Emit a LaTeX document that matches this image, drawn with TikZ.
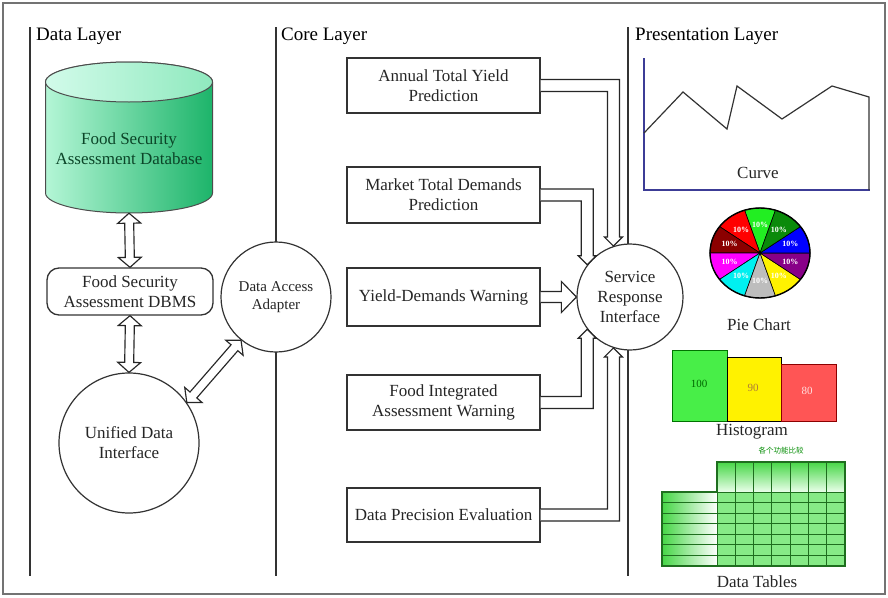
\documentclass[tikz,border=0pt]{standalone}
\usepackage{fontspec}
\setmainfont{Liberation Serif}
\newfontfamily\cjkfont{Noto Sans CJK SC}
\usetikzlibrary{calc,shapes.misc,shapes.geometric}
\definecolor{mintL}{HTML}{B4F6D6}
\definecolor{mintM}{HTML}{74E2AC}
\definecolor{mintR}{HTML}{1DB46A}
\definecolor{mintTopL}{HTML}{D2FBEA}
\definecolor{mintTopR}{HTML}{8FE9BE}
\definecolor{dbgreen}{HTML}{0B4528}
\definecolor{axisblue}{HTML}{3C3C96}
\definecolor{pielime}{HTML}{22EE22}
\definecolor{piedarkred}{HTML}{8B0000}
\definecolor{piegray}{HTML}{BDBDBD}
\definecolor{piepurple}{HTML}{880088}
\definecolor{piedarkgreen}{HTML}{0A8A0A}
\definecolor{piecyan}{HTML}{00F0F0}
\definecolor{piemagenta}{HTML}{FF00FF}
\definecolor{histgreen}{HTML}{48EE48}
\definecolor{histred}{HTML}{FF5555}
\definecolor{tblgreen}{HTML}{46D646}
\definecolor{tblcell}{HTML}{86EA86}
\definecolor{tblborder}{HTML}{1E6E1E}
\tikzset{
  txt/.style={font=\fontsize{17}{20}\selectfont, align=center, text=black!85},
  cbox/.style={txt, draw=black!80, line width=1.3pt, fill=white, minimum width=193pt, inner sep=0pt},
  circ/.style={txt, circle, draw=black!80, line width=1.2pt, fill=white, inner sep=0pt},
  hol/.style={draw=black!85, line width=1.15pt, fill=white, line join=miter},
  layerlbl/.style={font=\fontsize{19}{22}\selectfont, anchor=west, inner sep=0pt},
  divider/.style={draw=black!80, line width=1.2pt},
  caption/.style={font=\fontsize{17}{20}\selectfont, text=black!85, inner sep=0pt},
  pielbl/.style={font=\bfseries\fontsize{8}{9}\selectfont, text=white, inner sep=0pt},
  histlbl/.style={font=\fontsize{11}{12}\selectfont, inner sep=0pt},
  cell/.style={draw=tblborder, line width=0.8pt}
}
\newcommand\hdarr[5]{%
  \coordinate (ha) at ($(#1)!#5!(#2)$);
  \coordinate (hb) at ($(#2)!#5!(#1)$);
  \draw[hol] (#1) -- ($(ha)!#4!90:(#2)$) -- ($(ha)!#3!90:(#2)$) -- ($(hb)!#3!90:(#2)$)
    -- ($(hb)!#4!90:(#2)$) -- (#2) -- ($(hb)!#4!-90:(#2)$) -- ($(hb)!#3!-90:(#2)$)
    -- ($(ha)!#3!-90:(#2)$) -- ($(ha)!#4!-90:(#2)$) -- cycle;}
\newcommand\hsarr[5]{%
  \coordinate (hb) at ($(#2)!#5!(#1)$);
  \draw[hol] ($(#1)!#3!90:(#2)$) -- ($(hb)!#3!90:(#2)$) -- ($(hb)!#4!90:(#2)$) -- (#2)
    -- ($(hb)!#4!-90:(#2)$) -- ($(hb)!#3!-90:(#2)$) -- ($(#1)!#3!-90:(#2)$);}
\begin{document}
\begin{tikzpicture}[x=1pt,y=-1pt]
\useasboundingbox (0,0) rectangle (888,597);
\fill[white] (0,0) rectangle (888,597);
\draw[black!55, line width=1.5pt] (3,3) rectangle (885,594);

% layer labels and dividers
\node[layerlbl] (l1) at (36,36) {Data Layer};
\node[layerlbl] (l2) at (281,36) {Core Layer};
\node[layerlbl] (l3) at (635,36) {Presentation Layer};
\draw[divider] (30,27) -- (30,576);
\draw[divider] (276,27) -- (276,576);
\draw[divider] (628,27) -- (628,576);

% database cylinder
\node[minimum width=167pt, minimum height=151pt, inner sep=0pt] (db) at (129,137.5) {};
\draw[draw=black!70, line width=1pt, left color=mintL, middle color=mintM, right color=mintR]
  (45.5,82) -- (45.5,193) arc[start angle=180, end angle=0, x radius=83.5, y radius=20]
  -- (212.5,82) arc[start angle=0, end angle=-180, x radius=83.5, y radius=20] -- cycle;
\draw[draw=black!70, line width=1pt, left color=mintTopL, right color=mintTopR]
  (129,82) ellipse[x radius=83.5, y radius=20];
\node[txt, text=dbgreen] (dbt) at (129,149) {Food Security\\Assessment Database};

\node[txt, draw=black!80, line width=1.3pt, rounded corners=12pt, minimum width=166pt,
  minimum height=47pt, inner sep=0pt, fill=white] (dbms) at (130,291.5) {Food Security\\Assessment DBMS};
\node[circ, minimum size=140pt] (uni) at (129,443) {Unified Data\\Interface};
\node[circ, minimum size=110pt, font=\fontsize{15}{18}\selectfont] (daa) at (276,297) {Data Access\\Adapter};

% core boxes
\node[cbox, minimum height=55pt] (b1) at (443.5,85.5) {Annual Total Yield\\Prediction};
\node[cbox, minimum height=56pt] (b2) at (443.5,195) {Market Total Demands\\Prediction};
\node[cbox, minimum height=58pt] (b3) at (443.5,297) {Yield-Demands Warning};
\node[cbox, minimum height=55pt] (b4) at (443.5,402.5) {Food Integrated\\Assessment Warning};
\node[cbox, minimum height=54pt] (b5) at (443.5,515) {Data Precision Evaluation};
\node[circ, minimum size=106pt] (sri) at (630,297) {Service\\Response\\Interface};

% left hollow double arrows
\hdarr{db.south}{dbms.north}{4.5pt}{11.5pt}{10pt}
\hdarr{dbms.south}{uni.north}{4.5pt}{11.5pt}{10pt}
\hdarr{uni.35}{daa.231}{4.5pt}{11.5pt}{10pt}

% hollow arrows into service response interface
\draw[hol] ($(b1.east)+(0,-6)$) -- ($(b1.east -| sri.108)+(6,-6)$) -- ($(sri.108)+(6,-9)$)
  -- ($(sri.108)+(9,-9)$) -- (sri.108) -- ($(sri.108)+(-9,-9)$) -- ($(sri.108)+(-6,-9)$)
  -- ($(b1.east -| sri.108)+(-6,6)$) -- ($(b1.east)+(0,6)$);
\draw[hol] ($(b2.east)+(0,-6)$) -- ($(b2.east -| sri.143)+(6,-6)$) -- ($(sri.143)+(6,-9)$)
  -- ($(sri.143)+(9,-9)$) -- (sri.143) -- ($(sri.143)+(-9,-9)$) -- ($(sri.143)+(-6,-9)$)
  -- ($(b2.east -| sri.143)+(-6,6)$) -- ($(b2.east)+(0,6)$);
\hsarr{b3.east}{sri.west}{5.5pt}{15.5pt}{15pt}
\draw[hol] ($(b4.east)+(0,6)$) -- ($(b4.east -| sri.217)+(6,6)$) -- ($(sri.217)+(6,9)$)
  -- ($(sri.217)+(9,9)$) -- (sri.217) -- ($(sri.217)+(-9,9)$) -- ($(sri.217)+(-6,9)$)
  -- ($(b4.east -| sri.217)+(-6,-6)$) -- ($(b4.east)+(0,-6)$);
\draw[hol] ($(b5.east)+(0,6)$) -- ($(b5.east -| sri.252)+(6,6)$) -- ($(sri.252)+(6,9)$)
  -- ($(sri.252)+(9,9)$) -- (sri.252) -- ($(sri.252)+(-9,9)$) -- ($(sri.252)+(-6,9)$)
  -- ($(b5.east -| sri.252)+(-6,-6)$) -- ($(b5.east)+(0,-6)$);

% curve
\draw[axisblue, line width=1.2pt] (644,58) -- (644,190) -- (870,190);
\draw[black!80, line width=1.2pt, line join=miter] (644,133) -- (683,92) -- (727,129) -- (737,86)
  -- (782,119) -- (832,86) -- (869,97) -- (869,190);
\node[caption] (cv) at (758,173) {Curve};

% pie chart
\begin{scope}[shift={(760,253)}, y=1pt]
  \foreach \a/\c in {72/pielime,108/red,144/piedarkred,180/piemagenta,216/piecyan,252/piegray,288/yellow,324/piepurple,0/blue,36/piedarkgreen}{
    \filldraw[fill=\c, draw=black, line width=0.6pt] (0,0) -- (\a:50 and 45)
      arc[start angle=\a, end angle=\a+36, x radius=50, y radius=45] -- cycle;
    \node[pielbl] (p\a) at (\a+18:32 and 28) {10\%};
  }
  \draw[line width=1.4pt] (0,0) ellipse[x radius=50, y radius=45];
\end{scope}
\node[caption] (pc) at (759,325) {Pie Chart};

% histogram
\draw[draw=green!45!black, line width=1pt, fill=histgreen] (672,350) rectangle (727,421);
\draw[draw=black, line width=1pt, fill=yellow] (727,357) rectangle (781,421);
\draw[draw=red!55!black, line width=1pt, fill=histred] (781,364) rectangle (836,421);
\node[histlbl, text=green!40!black] (h1) at (699,384) {100};
\node[histlbl, text=black!50!yellow!70!red] (h2) at (753,388) {90};
\node[histlbl, text=red!12] (h3) at (807,391) {80};
\node[caption] (hc) at (752,432) {Histogram};

% data tables
\node[font=\cjkfont\fontsize{7.5}{8}\selectfont, text=green!55!black, inner sep=0pt] (tt) at (781,451) {各个功能比较};
\foreach \i in {0,...,6}{
  \draw[cell, top color=tblgreen, bottom color=green!8] (717+\i*18.286,462) rectangle ++(18.286,30);
}
\foreach \r in {0,...,6}{
  \draw[cell, left color=tblgreen, right color=white] (662,492+\r*10.571) rectangle ++(55,10.571);
  \foreach \i in {0,...,6}{
    \draw[cell, fill=tblcell] (717+\i*18.286,492+\r*10.571) rectangle ++(18.286,10.571);
  }
}
\draw[draw=tblborder, line width=1.3pt] (717,462) -- (845,462) -- (845,566) -- (662,566) -- (662,492) -- (717,492) -- cycle;
\node[caption] (dt) at (757,582) {Data Tables};
\end{tikzpicture}
\end{document}
